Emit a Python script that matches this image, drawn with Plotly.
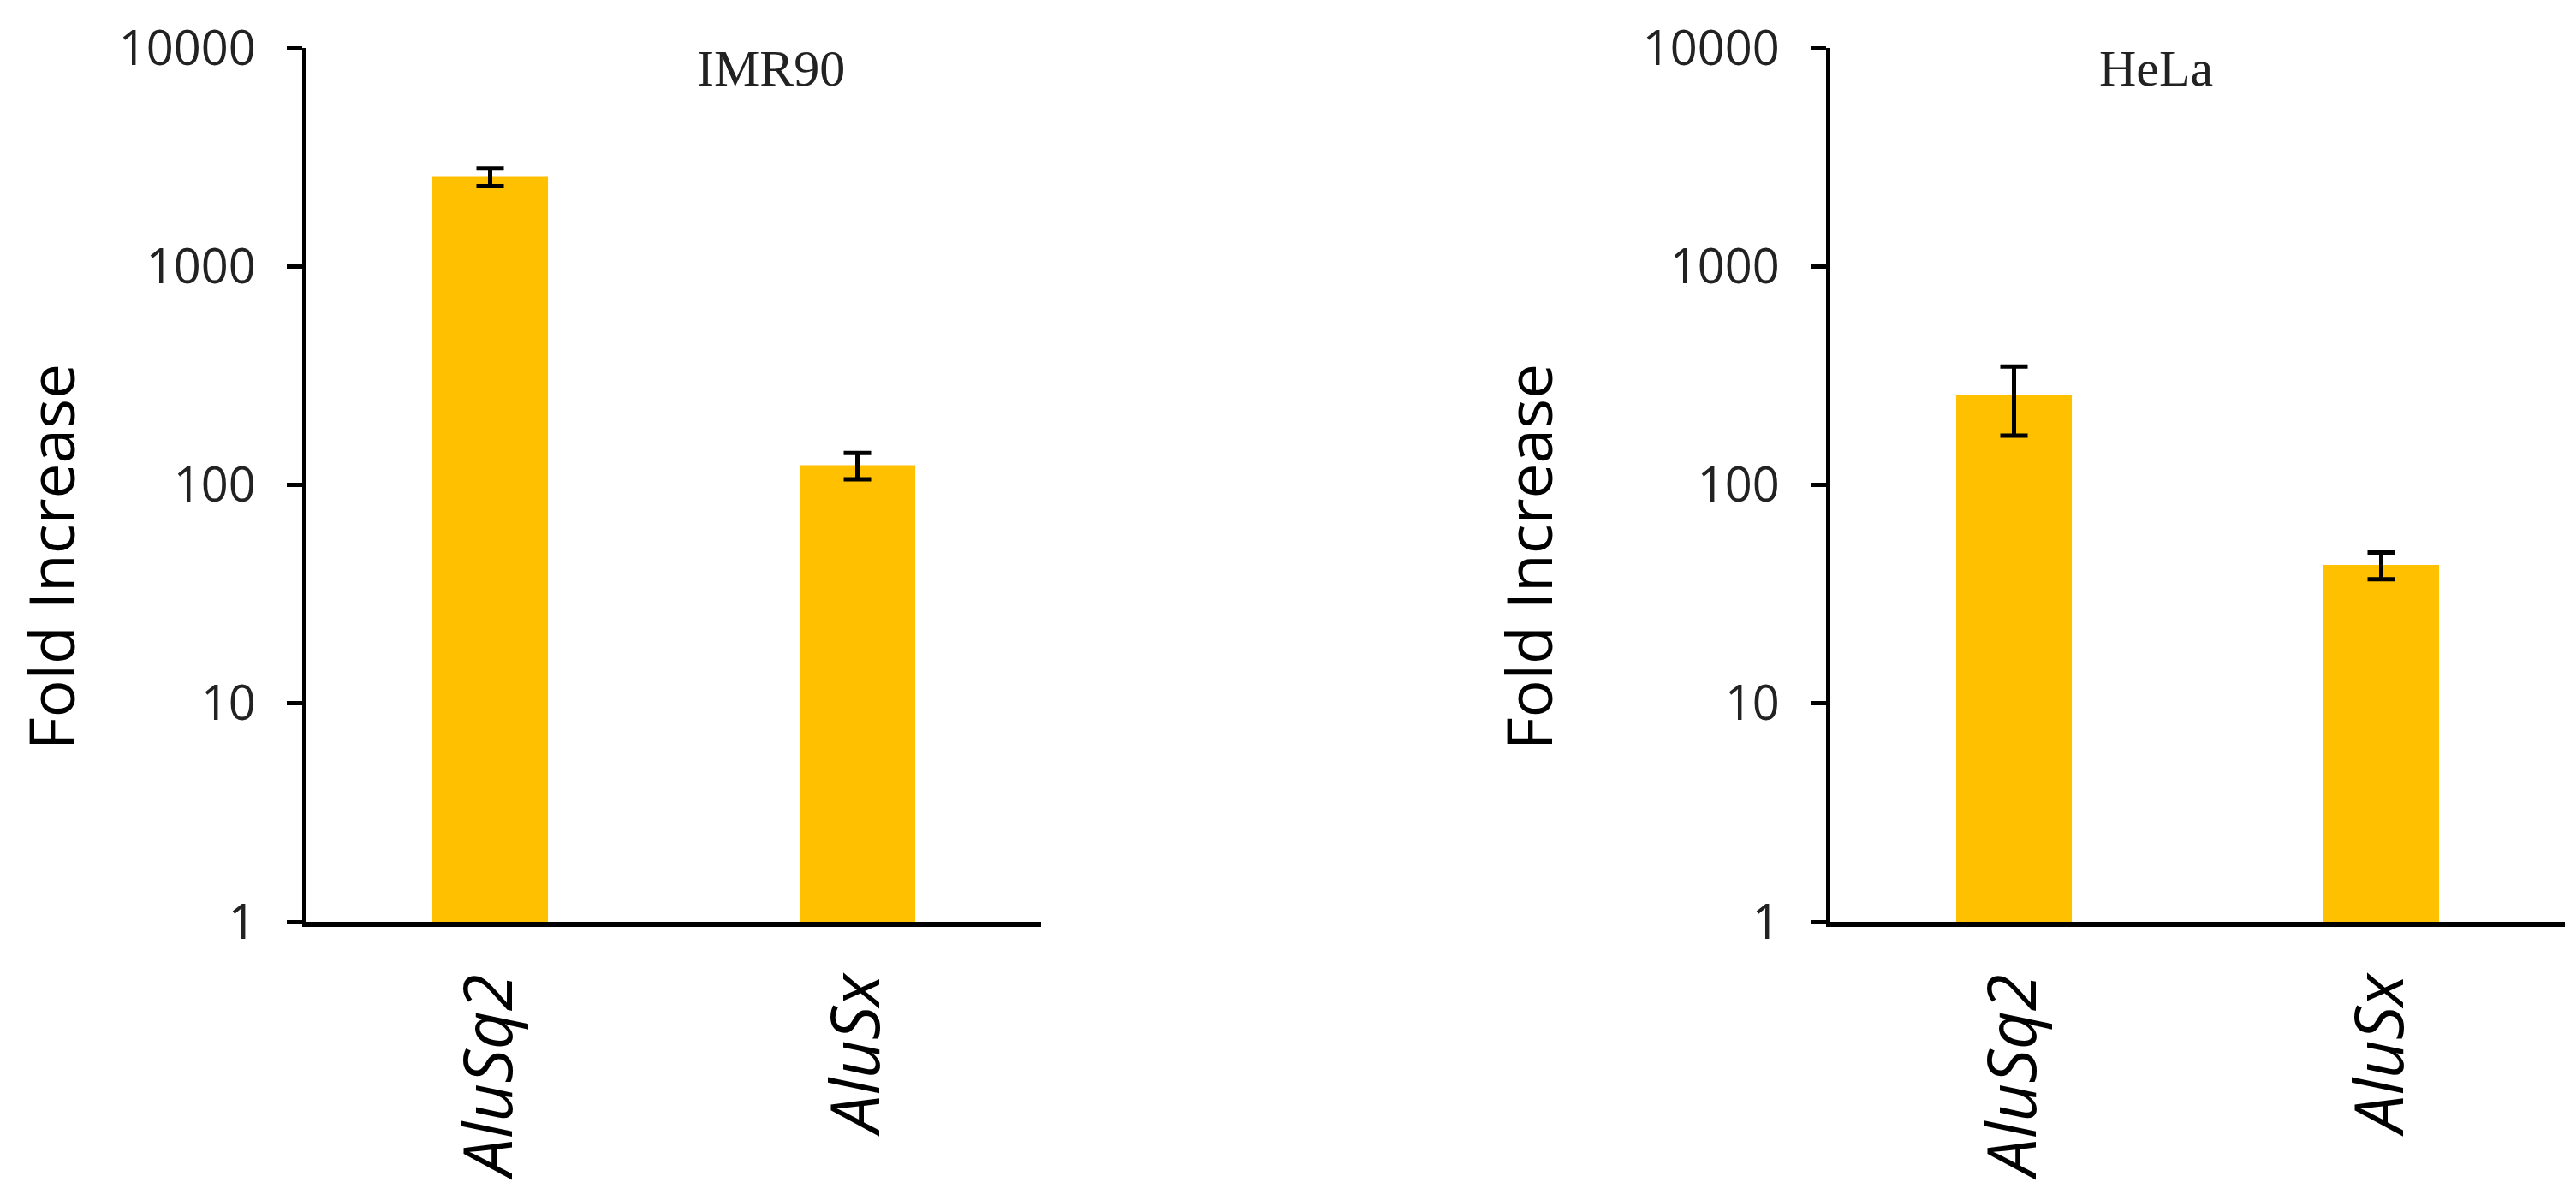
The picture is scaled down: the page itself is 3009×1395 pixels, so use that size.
import plotly.graph_objects as go

# values (log-scale fold increase, mean +/- error)
repeats = ["AluSq2", "AluSx"]
imr90_fold = [2570, 123]
imr90_err = [240, 17]
hela_fold = [258, 43]
hela_err = [90, 6]
panel_titles = ["IMR90", "HeLa"]
y_ticks = [1, 10, 100, 1000, 10000]

BAR_COLOR = "#FFC000"
W, H = 3009, 1395

fig = go.Figure()

for i, (fold, err) in enumerate([(imr90_fold, imr90_err), (hela_fold, hela_err)]):
    sfx = "" if i == 0 else "2"
    fig.add_trace(
        go.Bar(
            x=repeats,
            y=fold,
            marker=dict(color=BAR_COLOR, line=dict(width=0)),
            error_y=dict(type="data", array=err, visible=True,
                         color="black", thickness=5, width=16),
            xaxis="x" + sfx,
            yaxis="y" + sfx,
            showlegend=False,
        )
    )

tick_font = dict(family="Open Sans", size=56, color="#222222")
cat_font = dict(family="Open Sans", size=78, color="black")

x_domains = [[350 / W, 1208 / W], [2130 / W, 2988 / W]]
y_domain = [(H - 1069) / H, (H - 48) / H]

for i in range(2):
    sfx = "" if i == 0 else "2"
    fig.update_layout(**{
        "xaxis" + sfx: dict(
            domain=x_domains[i],
            anchor="y" + sfx,
            type="category",
            tickvals=repeats,
            ticktext=["<i>%s</i>" % r for r in repeats],
            tickangle=-90,
            tickfont=cat_font,
            showline=True, linecolor="black", linewidth=6,
            ticks="", showgrid=False, zeroline=False,
            ticklabelstandoff=24,
            automargin=False,
        ),
        "yaxis" + sfx: dict(
            domain=y_domain,
            anchor="x" + sfx,
            type="log",
            range=[0, 4],
            tickvals=y_ticks,
            ticktext=[str(v) for v in y_ticks],
            tickfont=tick_font,
            showline=True, linecolor="black", linewidth=5,
            ticks="outside", ticklen=18, tickwidth=5, tickcolor="black",
            showgrid=False, zeroline=False,
            ticklabelstandoff=25,
            automargin=False,
        ),
    })

# panel titles
title_pos = [(892 / W, (H - 72) / H), (2510 / W, (H - 72) / H)]
for (tx, ty), t in zip(title_pos, panel_titles):
    fig.add_annotation(x=tx, y=ty, xref="paper", yref="paper", text=t,
                       showarrow=False, xanchor="center", yanchor="middle",
                       font=dict(family="Liberation Serif", size=60, color="#222222"))

# y-axis titles
ytitle_pos = [(50 / W, (H - 643) / H), (1776 / W, (H - 643) / H)]
for tx, ty in ytitle_pos:
    fig.add_annotation(x=tx, y=ty, xref="paper", yref="paper", text="Fold Increase",
                       showarrow=False, textangle=-90, xanchor="center", yanchor="middle",
                       font=dict(family="Open Sans", size=73, color="black"))

fig.update_layout(
    width=W, height=H,
    margin=dict(l=0, r=0, t=0, b=0, autoexpand=False),
    paper_bgcolor="white", plot_bgcolor="white",
    bargap=0.685,
)

fig.write_html("out.html")
